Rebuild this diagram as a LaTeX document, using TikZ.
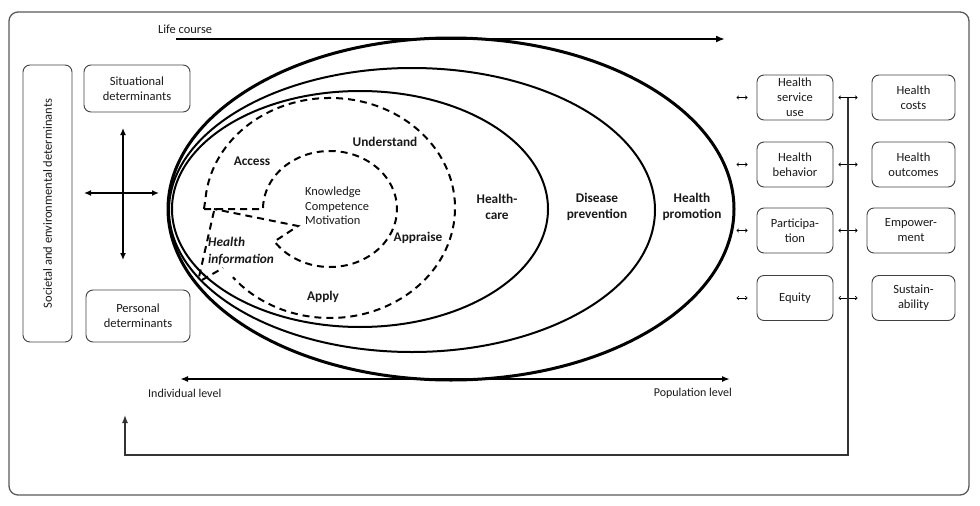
\documentclass[tikz,border=0pt]{standalone}
\usepackage{fontspec}
\setmainfont{Carlito}
\usetikzlibrary{arrows.meta}
\begin{document}
\begin{tikzpicture}[x=1pt,y=-1pt,
  lbl/.style={font=\fontsize{13.3}{16}\selectfont\bfseries, align=center, inner sep=0, text=black!90},
  txt/.style={font=\fontsize{12.4}{15}\selectfont, align=center, inner sep=0, text=black!90},
  sbox/.style={draw=black!75, line width=0.9pt, rounded corners=7pt, font=\fontsize{12.5}{15}\selectfont, align=center, inner sep=0, text=black!90},
  rbox/.style={sbox, minimum width=76pt, minimum height=45pt},
  qbox/.style={sbox, minimum width=83pt, minimum height=45pt},
  dsh/.style={line width=2pt, dash pattern=on 7pt off 5pt},
  bigarr/.style={line width=1.8pt, -{Latex[length=9pt,width=7pt]}},
  dblarr/.style={line width=1.4pt, {Latex[length=7pt,width=6pt]}-{Latex[length=7pt,width=6pt]}},
  tinyarr/.style={line width=0.6pt, {To[length=2.5pt,width=4pt]}-{To[length=2.5pt,width=4pt]}},
  fb/.style={line width=1.4pt, draw=black!80}
]
\useasboundingbox (0,0) rectangle (980,506);
% outer frame
\draw[draw=black!65, line width=1.3pt, rounded corners=9pt] (9,12) rectangle (969,495);

% life course
\node[txt, anchor=west] (lc) at (158,29) {Life course};
\coordinate (lcs) at (176,39);
\coordinate (lce) at (725,39);
\draw[bigarr] (lcs) -- (lce);

% ellipses
\draw[line width=3pt] (451,209) ellipse [x radius=283, y radius=171];
\draw[line width=2pt] (412,210) ellipse [x radius=243, y radius=142];
\draw[line width=2pt] (360,209) ellipse [x radius=188, y radius=118];

% individual / population level
\coordinate (indl) at (180,379);
\coordinate (popl) at (730,379);
\draw[line width=1.6pt, {Latex[length=8pt,width=6pt]}-{Latex[length=8pt,width=6pt]}] (indl) -- (popl);
\node[txt, anchor=west, font=\fontsize{12}{14}\selectfont] (ind) at (148,393) {Individual level};
\node[txt, anchor=east, font=\fontsize{12}{14}\selectfont] (pop) at (732,393) {Population level};

% dashed shapes
\draw[dsh] (204,209) -- (205.5,198.4) arc[start angle=185, end angle=501, x radius=125, y radius=110];
\draw[dsh] (204,209) -- (263,209) arc[start angle=180, end angle=506, x radius=67, y radius=58] -- (298,226) -- (214,209);
\draw[dsh] (214,211) -- (199,277);
\draw[dsh] (202,280) -- (223,268);

% labels inside
\node[lbl] (access) at (252,161) {Access};
\node[lbl] (underst) at (385,142) {Understand};
\node[txt, anchor=west, align=left, font=\fontsize{12.4}{14.5}\selectfont] (kcm) at (305,206) {Knowledge\\Competence\\Motivation};
\node[lbl] (appraise) at (418,238) {Appraise};
\node[lbl, anchor=west, align=left, font=\fontsize{13.3}{17}\selectfont\bfseries\itshape] (hinfo) at (208,251) {Health\\information};
\node[lbl] (apply) at (323,297) {Apply};
\node[lbl] (hc) at (497,207) {Health-\\care};
\node[lbl] (dp) at (597,207) {Disease\\prevention};
\node[lbl] (hp) at (692,207) {Health\\promotion};

% left boxes
\node[sbox, minimum width=277pt, minimum height=49pt, rotate=90] (soc) at (47.5,203.5) {Societal and environmental determinants};
\node[sbox, minimum width=106pt, minimum height=47pt] (sit) at (137,88.5) {Situational\\determinants};
\node[sbox, minimum width=104pt, minimum height=52pt] (pers) at (138,316) {Personal\\determinants};
\coordinate (vt) at (123,128);
\coordinate (vb) at (123,260);
\coordinate (hl) at (84,193);
\coordinate (hr) at (159,193);
\draw[dblarr] (vt) -- (vb);
\draw[dblarr] (hl) -- (hr);

% right boxes
\node[rbox] (b1) at (795,97.5) {Health\\service\\use};
\node[rbox] (b2) at (795,164.5) {Health\\behavior};
\node[rbox] (b3) at (795,230.5) {Participa-\\tion};
\node[rbox] (b4) at (795,298) {Equity};
\node[qbox] (c1) at (913.5,97.5) {Health\\costs};
\node[qbox] (c2) at (913.5,164.5) {Health\\outcomes};
\node[qbox, minimum width=88pt] (c3) at (911,230.5) {Empower-\\ment};
\node[qbox] (c4) at (913.5,298) {Sustain-\\ability};

\foreach \b in {b1,b2,b3,b4}{
  \draw[tinyarr] ([xshift=-20pt]\b.west) -- ([xshift=-9pt]\b.west);
}
\draw[tinyarr, shorten <=5pt, shorten >=14pt] (b1.east) -- (c1.west);
\draw[tinyarr, shorten <=5pt, shorten >=14pt] (b2.east) -- (c2.west);
\draw[tinyarr, shorten <=5pt, shorten >=9pt] (b3.east) -- (c3.west);
\draw[tinyarr, shorten <=5pt, shorten >=14pt] (b4.east) -- (c4.west);

% feedback line
\coordinate (vtop) at (848,98);
\coordinate (vbot) at (848,455);
\coordinate (lbot) at (125,455);
\coordinate (lup) at (125,415);
\draw[fb, -{Latex[length=8pt,width=6pt]}] (vtop) -- (vbot) -- (lbot) -- (lup);
\end{tikzpicture}
\end{document}
